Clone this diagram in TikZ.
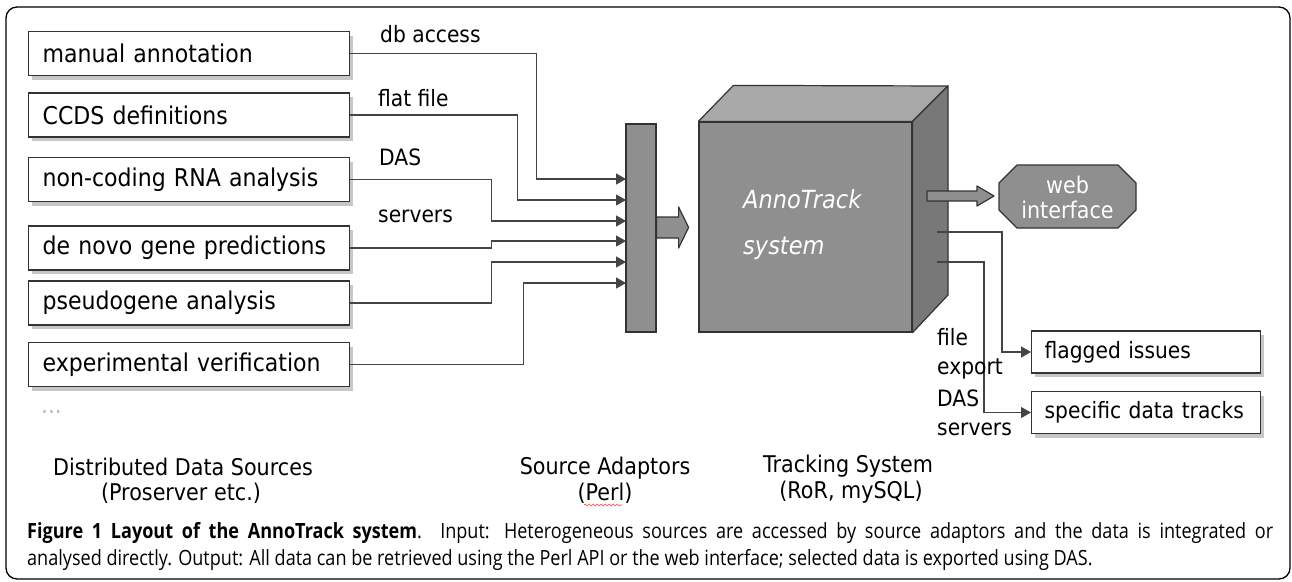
\documentclass[tikz,border=0pt]{standalone}
\usepackage{fontspec}
\setmainfont{DejaVu Sans}[FakeStretch=0.9]
\newfontfamily\capfont{Open Sans}[FakeStretch=0.86]
\usetikzlibrary{arrows.meta,shadows,decorations.pathmorphing,calc}
\definecolor{frontg}{HTML}{8F8F8F}
\definecolor{topg}{HTML}{A9A9A9}
\definecolor{sideg}{HTML}{787878}
\definecolor{edge}{HTML}{333333}
\definecolor{linec}{HTML}{444444}
\tikzset{
  srcbox/.style={draw=edge, line width=1.3pt, fill=white, minimum height=44pt,
    text width=293pt, inner xsep=14pt, align=left,
    font=\fontsize{24.5}{28}\selectfont,
    drop shadow={shadow xshift=3pt, shadow yshift=-4pt, fill=black, opacity=0.22}},
  outbox/.style={srcbox, minimum height=42pt, text width=203pt, inner xsep=13pt,
    font=\fontsize{22.5}{26}\selectfont},
  arr/.style={draw=linec, line width=1.2pt, -{Triangle[length=10pt,width=11pt]}},
  lbl/.style={anchor=base west, inner sep=0pt, font=\fontsize{22.5}{26}\selectfont},
  blbl/.style={anchor=base, inner sep=0pt, font=\fontsize{23}{26}\selectfont},
  face/.style={draw=edge, line width=1.2pt, line join=round},
}
\begin{document}
\begin{tikzpicture}[x=1pt,y=-1pt]
\useasboundingbox (0,0) rectangle (1292,581);
\draw[line width=1.3pt, rounded corners=11pt] (6,7) rectangle (1290,579);

% source boxes
\node[srcbox, anchor=west] (b1) at (28,53.5) {manual annotation};
\node[srcbox, anchor=west] (b2) at (28,115) {CCDS definitions};
\node[srcbox, anchor=west] (b3) at (28,179.5) {non-coding RNA analysis};
\node[srcbox, anchor=west] (b4) at (28,248) {de novo gene predictions};
\node[srcbox, anchor=west] (b5) at (28,303) {pseudogene analysis};
\node[srcbox, anchor=west] (b6) at (28,364.5) {experimental verification};
\node[anchor=base west, inner sep=0pt, text=gray!55, font=\fontsize{24}{28}\selectfont] (dots) at (41,413) {...};

% labels near connectors
\node[lbl] (l1) at (380,42) {db access};
\node[lbl] (l2) at (378,106) {flat file};
\node[lbl] (l3) at (379,165) {DAS};
\node[lbl] (l4) at (378,222) {servers};

% adaptor panel
\node[draw=edge, fill=frontg, line width=1.2pt, minimum width=30pt, minimum height=208pt, inner sep=0pt] (panel) at (641,228) {};
\coordinate (in1) at (626,179);
\coordinate (in2) at (626,200);
\coordinate (in3) at (626,221);
\coordinate (in4) at (626,241);
\coordinate (in5) at (626,262);
\coordinate (in6) at (626,283);

\draw[arr] (b1.east) -- ++(186,0) |- (in1);
\draw[arr] (b2.east) -- ++(167,0) |- (in2);
\draw[arr] (b3.east) -- ++(141,0) |- (in3);
\draw[arr] (b4.east) -- ++(141,0) |- (in4);
\draw[arr] (b5.east) -- ++(141,0) |- (in5);
\draw[arr] (b6.east) -- ++(173,0) |- (in6);

% block arrow panel -> cube
\draw[face, fill=frontg] ($(panel.east)+(0,-11)$) -- ++(22,0) -- ++(0,-10) -- ++(10,20.5) -- ++(-10,20.5) -- ++(0,-10) -- ++(-22,0) -- cycle;

% cube
\node[draw=edge, fill=frontg, line width=1.2pt, minimum width=213pt, minimum height=210pt, inner sep=0pt] (cube) at (805.5,227) {};
\draw[face, fill=topg] (cube.north west) -- ++(35,-36) -- (948,86) -- (cube.north east) -- cycle;
\draw[face, fill=sideg] (cube.north east) -- (948,86) -- (948,295) -- (cube.south east) -- cycle;
\node[anchor=base west, inner sep=0pt, text=white, font=\fontsize{25}{28}\selectfont\itshape] (t1) at (743,208) {AnnoTrack};
\node[anchor=base west, inner sep=0pt, text=white, font=\fontsize{25}{28}\selectfont\itshape] (t2) at (743,254) {system};

% web interface
\draw[face, fill=frontg] (927,191) -- (977,191) -- (977,186) -- (994,196) -- (977,206) -- (977,201) -- (927,201) -- cycle;
\draw[face, fill=frontg] (999,183) -- (1017,165) -- (1118,165) -- (1136,183) -- (1136,210) -- (1118,228) -- (1017,228) -- (999,210) -- cycle;
\node[text=white, align=center, inner sep=0pt, font=\fontsize{23}{25}\selectfont] (web) at (1067.5,197) {web\\interface};

% outputs
\node[outbox, anchor=west] (flag) at (1031,352) {flagged issues};
\node[outbox, anchor=west] (spec) at (1031,412.5) {specific data tracks};
\coordinate (o1) at (937,232);
\coordinate (o2) at (937,262);
\draw[arr] (o1) -- ++(65,0) |- (flag.west);
\draw[arr] (o2) -- ++(47,0) |- (spec.west);
\node[lbl] (f1) at (937,345) {file};
\node[lbl] (f2) at (937,374) {export};
\node[lbl] (f3) at (937,406) {DAS};
\node[lbl] (f4) at (937,435) {servers};

% bottom labels
\node[blbl] (d1) at (183,475) {Distributed Data Sources};
\node[blbl] (d2) at (181,500) {(Proserver etc.)};
\node[blbl] (s1) at (605,474) {Source Adaptors};
\node[blbl] (s2) at (605,500) {(Perl)};
\draw[red!75, line width=0.6pt, decorate, decoration={snake, amplitude=1pt, segment length=4pt}] (584,505) -- (622,505);
\node[blbl] (r1) at (848,472) {Tracking System};
\node[blbl] (r2) at (851,498) {(RoR, mySQL)};

% caption
\node[anchor=north west, inner sep=0pt, text width=1246pt, align=justify,
  font=\capfont\fontsize{21}{27}\selectfont] (cap) at (27,522)
  {\textbf{Figure 1 Layout of the AnnoTrack system}. Input: Heterogeneous sources are accessed by source adaptors and the data is integrated or\linebreak analysed directly. Output: All data can be retrieved using the Perl API or the web interface; selected data is exported using DAS.};
\end{tikzpicture}
\end{document}
